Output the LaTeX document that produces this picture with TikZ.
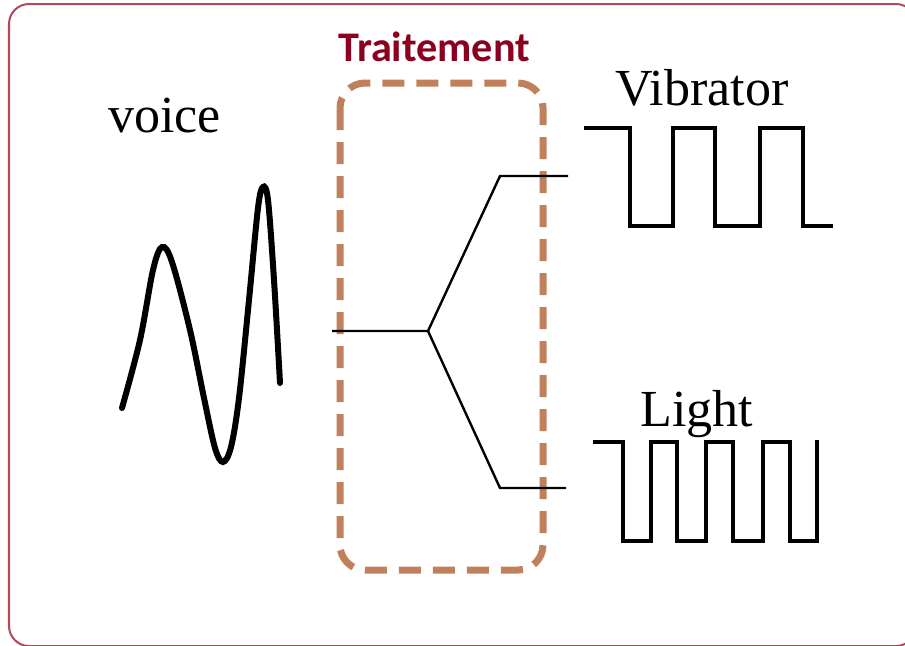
\documentclass[tikz,border=0pt]{standalone}
\usepackage{fontspec}
\setmainfont{Liberation Serif}
\newfontfamily\titlefont{Carlito}
\usetikzlibrary{positioning}
\definecolor{framered}{RGB}{178, 72, 92}
\definecolor{titlered}{RGB}{139, 0, 30}
\definecolor{boxbrown}{RGB}{192, 128, 92}

\tikzset{
  label/.style={anchor=base west, inner sep=0pt, font=\fontsize{37}{40}\selectfont},
  signal/.style={line width=0.12cm, line join=miter},
  branch/.style={line width=0.06cm}
}

\begin{document}
\begin{tikzpicture}[x=0.025cm, y=-0.025cm]
  \useasboundingbox (0,0) rectangle (905,645);
  \begin{scope}
    \clip (0,0) rectangle (905,645);
    \draw[framered, line width=0.05cm, rounded corners=0.5cm] (9,4) rectangle (916,646);
  \end{scope}
  % labels
  \node[label] (voice) at (108,132) {voice};
  \node[label] (vib) at (615,105) {Vibrator};
  \node[label] (light) at (640,426) {Light};
  \node[anchor=base west, inner sep=0pt, text=titlered,
        font=\titlefont\bfseries\fontsize{30}{32}\selectfont] (title) at (338,61) {Traitement};
  % processing box
  \draw[boxbrown, line width=0.175cm, dash pattern=on 0.55cm off 0.3cm,
        rounded corners=0.625cm] (340,83) rectangle (543,570);
  % voice signal
  \draw[line width=0.15cm, line cap=round] plot[smooth, tension=0.55] coordinates
    {(122,408) (140,340) (153,270) (162,247) (172,262) (190,330) (204,398) (215,448)
     (223,462) (231,447) (239,398) (249,300) (258,208) (263,187) (268,200) (274,280) (280,383)};
  % splitting lines
  \coordinate (in) at (332,331);
  \coordinate (split) at (428,331);
  \coordinate (up) at (500,176);
  \coordinate (down) at (500,488);
  \coordinate (vibin) at (568,176);
  \coordinate (lightin) at (566,488);
  \draw[branch] (in) -- (split) -- (up) -- (vibin);
  \draw[branch] (split) -- (down) -- (lightin);
  % output signals
  \draw[signal] (584,128) -- (630,128) -- (630,226) -- (673,226) -- (673,128) -- (715,128)
    -- (715,226) -- (760,226) -- (760,128) -- (803,128) -- (803,226) -- (833,226);
  \draw[signal] (593,442) -- (623,442) -- (623,541) -- (651,541) -- (651,442) -- (677,442)
    -- (677,541) -- (706,541) -- (706,442) -- (733,442) -- (733,541) -- (763,541)
    -- (763,442) -- (790,442) -- (790,541) -- (817,541) -- (817,440);
\end{tikzpicture}
\end{document}
